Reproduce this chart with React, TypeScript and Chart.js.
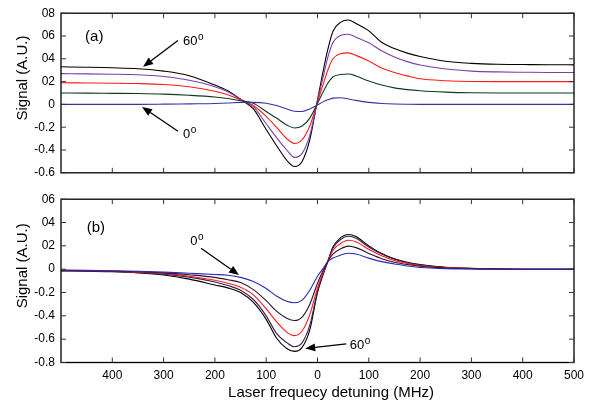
import React, { useEffect, useRef } from "react";
import { Chart, registerables } from "chart.js";

Chart.register(...registerables);

// ---------- data ----------
const detuning = [-500, -450, -400, -350, -300, -250, -200, -175, -150, -125, -100, -80, -60, -45, -30, -15, 0, 10, 20, 30, 45, 60, 75, 100, 125, 150, 175, 200, 250, 300, 350, 400, 450, 500];

// panel (a)
const a60 = [0.33, 0.326, 0.321, 0.313, 0.292, 0.252, 0.17, 0.12, 0.045, -0.04, -0.22, -0.36, -0.49, -0.545, -0.5, -0.31, 0.04, 0.27, 0.48, 0.64, 0.72, 0.74, 0.71, 0.645, 0.545, 0.49, 0.45, 0.42, 0.378, 0.36, 0.352, 0.35, 0.348, 0.347];
const a45 = [0.27, 0.268, 0.265, 0.26, 0.245, 0.212, 0.155, 0.11, 0.045, -0.02, -0.17, -0.29, -0.4, -0.465, -0.43, -0.27, 0.03, 0.22, 0.41, 0.54, 0.605, 0.615, 0.59, 0.54, 0.47, 0.415, 0.375, 0.345, 0.31, 0.292, 0.285, 0.282, 0.28, 0.28];
const a30 = [0.19, 0.188, 0.186, 0.183, 0.175, 0.155, 0.115, 0.085, 0.04, -0.01, -0.105, -0.2, -0.3, -0.343, -0.31, -0.19, 0.02, 0.16, 0.3, 0.4, 0.445, 0.452, 0.43, 0.38, 0.32, 0.28, 0.25, 0.225, 0.208, 0.201, 0.2, 0.2, 0.2, 0.2];
const a15 = [0.1, 0.099, 0.097, 0.095, 0.09, 0.08, 0.065, 0.052, 0.032, 0.01, -0.063, -0.12, -0.18, -0.207, -0.19, -0.12, 0.01, 0.1, 0.185, 0.24, 0.262, 0.267, 0.25, 0.205, 0.17, 0.145, 0.13, 0.12, 0.108, 0.102, 0.1, 0.1, 0.1, 0.1];
const a0 = [0, 0, 0, 0, 0.002, 0.005, 0.008, 0.012, 0.018, 0.018, 0.01, -0.01, -0.04, -0.06, -0.062, -0.04, -0.005, 0.02, 0.04, 0.055, 0.058, 0.048, 0.035, 0.018, 0.008, 0.003, 0.001, 0, 0, 0, 0, 0, 0, 0];

// panel (b)
const b0 = [-0.008, -0.01, -0.013, -0.018, -0.025, -0.035, -0.045, -0.052, -0.07, -0.105, -0.165, -0.23, -0.275, -0.288, -0.265, -0.18, -0.06, 0, 0.065, 0.095, 0.12, 0.137, 0.13, 0.095, 0.065, 0.045, 0.027, 0.015, 0.005, 0.002, 0, 0, 0, 0];
const b15 = [-0.01, -0.012, -0.016, -0.022, -0.032, -0.048, -0.07, -0.09, -0.115, -0.175, -0.27, -0.36, -0.42, -0.44, -0.41, -0.3, -0.12, -0.02, 0.065, 0.13, 0.175, 0.198, 0.185, 0.135, 0.09, 0.06, 0.04, 0.025, 0.01, 0.004, 0.001, 0, 0, 0];
const b30 = [-0.012, -0.014, -0.018, -0.025, -0.036, -0.06, -0.095, -0.12, -0.155, -0.22, -0.34, -0.45, -0.54, -0.57, -0.53, -0.39, -0.16, -0.04, 0.065, 0.16, 0.22, 0.248, 0.235, 0.17, 0.115, 0.075, 0.05, 0.032, 0.013, 0.005, 0.002, 0, 0, 0];
const b45 = [-0.013, -0.015, -0.02, -0.028, -0.042, -0.068, -0.11, -0.14, -0.18, -0.26, -0.4, -0.55, -0.63, -0.665, -0.63, -0.48, -0.19, -0.05, 0.065, 0.18, 0.255, 0.282, 0.265, 0.19, 0.13, 0.085, 0.055, 0.036, 0.015, 0.006, 0.002, 0, 0, 0];
const b60 = [-0.015, -0.017, -0.022, -0.032, -0.05, -0.085, -0.135, -0.16, -0.2, -0.285, -0.43, -0.59, -0.68, -0.705, -0.67, -0.52, -0.2, -0.06, 0.065, 0.19, 0.27, 0.298, 0.28, 0.2, 0.135, 0.09, 0.06, 0.04, 0.017, 0.007, 0.003, 0, 0, 0];

// ticks
const xTickValues = [-400, -300, -200, -100, 0, 100, 200, 300, 400, 500];
const xTickLabels = ["400", "300", "200", "100", "0", "100", "200", "300", "400", "500"];
const topYTickValues = [-0.6, -0.4, -0.2, 0, 0.2, 0.4, 0.6, 0.8];
const topYTickLabels = ["-0.6", "-0.4", "-0.2", "0", "02", "04", "06", "08"];
const bottomYTickValues = [-0.8, -0.6, -0.4, -0.2, 0, 0.2, 0.4, 0.6];
const bottomYTickLabels = ["-0.8", "-0.6", "-0.4", "-0.2", "0", "02", "04", "06"];

// titles
const yTitle = "Signal (A.U.)";
const xTitle = "Laser frequecy detuning (MHz)";

// annotations (data coordinates)
const topNotes = [
  { text: "60", sup: "o", x: -262, y: 0.55 },
  { text: "0", sup: "o", x: -262, y: -0.26 },
  { text: "(a)", sup: "", x: -453, y: 0.59 },
];
const topArrows = [
  { x1: -272, y1: 0.56, x2: -340, y2: 0.33 },
  { x1: -272, y1: -0.235, x2: -342, y2: -0.022 },
];
const bottomNotes = [
  { text: "0", sup: "o", x: -248, y: 0.24 },
  { text: "60", sup: "o", x: 63, y: -0.65 },
  { text: "(b)", sup: "", x: -450, y: 0.355 },
];
const bottomArrows = [
  { x1: -227, y1: 0.18, x2: -153, y2: -0.05 },
  { x1: 56, y1: -0.64, x2: -24, y2: -0.68 },
];

const FONT = "'Liberation Sans', Arial, Helvetica, sans-serif";

function labelFor(values: number[], labels: string[], v: number) {
  const i = values.findIndex((t) => Math.abs(t - v) < 1e-6);
  return i >= 0 ? labels[i] : "";
}

const framePlugin = {
  id: "frame",
  afterDatasetsDraw(chart: any, _args: any, opts: any) {
    const { ctx, chartArea, scales } = chart;
    const { left, right, top, bottom } = chartArea;
    const xs = scales.x;
    const ys = scales.y;
    ctx.save();
    ctx.strokeStyle = "#000";
    ctx.lineWidth = 1.3;
    ctx.strokeRect(left, top, right - left, bottom - top);
    ctx.lineWidth = 1;
    ctx.strokeStyle = "#333";
    const tl = 5;
    ctx.beginPath();
    for (const v of xTickValues) {
      const px = xs.getPixelForValue(v);
      ctx.moveTo(px, bottom);
      ctx.lineTo(px, bottom - tl);
      ctx.moveTo(px, top);
      ctx.lineTo(px, top + tl);
    }
    for (const v of opts.yTicks || []) {
      const py = ys.getPixelForValue(v);
      ctx.moveTo(left, py);
      ctx.lineTo(left + tl, py);
      ctx.moveTo(right, py);
      ctx.lineTo(right - tl, py);
    }
    ctx.stroke();

    // arrows
    ctx.strokeStyle = "#000";
    ctx.fillStyle = "#000";
    for (const a of opts.arrows || []) {
      const x1 = xs.getPixelForValue(a.x1);
      const y1 = ys.getPixelForValue(a.y1);
      const x2 = xs.getPixelForValue(a.x2);
      const y2 = ys.getPixelForValue(a.y2);
      const ang = Math.atan2(y2 - y1, x2 - x1);
      const hl = 10;
      const hw = 4;
      const bx = x2 - hl * Math.cos(ang);
      const by = y2 - hl * Math.sin(ang);
      ctx.lineWidth = 1.3;
      ctx.beginPath();
      ctx.moveTo(x1, y1);
      ctx.lineTo(bx, by);
      ctx.stroke();
      ctx.beginPath();
      ctx.moveTo(x2, y2);
      ctx.lineTo(bx + hw * Math.sin(ang), by - hw * Math.cos(ang));
      ctx.lineTo(bx - hw * Math.sin(ang), by + hw * Math.cos(ang));
      ctx.closePath();
      ctx.fill();
    }

    // notes
    ctx.textBaseline = "middle";
    ctx.textAlign = "left";
    for (const n of opts.notes || []) {
      const px = xs.getPixelForValue(n.x);
      const py = ys.getPixelForValue(n.y);
      const big = n.sup ? 13 : 15;
      ctx.font = `${big}px ${FONT}`;
      ctx.fillText(n.text, px, py);
      if (n.sup) {
        const w = ctx.measureText(n.text).width;
        ctx.font = `10px ${FONT}`;
        ctx.fillText(n.sup, px + w + 0.5, py - 4);
      }
    }

    // axis titles
    ctx.textAlign = "center";
    ctx.font = `15px ${FONT}`;
    ctx.save();
    ctx.translate(22.5, (top + bottom) / 2 - 15);
    ctx.rotate(-Math.PI / 2);
    ctx.fillText(yTitle, 0, 0);
    ctx.restore();
    if (opts.showXTitle) {
      ctx.fillText(xTitle, (left + right) / 2 + 13.5, chart.height - 14);
    }
    ctx.restore();
  },
};

function mkDatasets(series: { data: number[]; color: string }[]) {
  return series.map((s) => ({
    data: detuning.map((x, i) => ({ x, y: s.data[i] })),
    borderColor: s.color,
    backgroundColor: s.color,
    borderWidth: 1.1,
    pointRadius: 0,
    fill: false,
    cubicInterpolationMode: "monotone" as const,
  }));
}

function yScale(min: number, max: number, values: number[], labels: string[]) {
  return {
    type: "linear" as const,
    min,
    max,
    afterBuildTicks: (s: any) => {
      s.ticks = values.map((v) => ({ value: v }));
    },
    afterFit: (s: any) => {
      s.width = 61;
    },
    ticks: {
      color: "#000",
      font: { family: FONT, size: 12 },
      padding: 6,
      callback: (v: any) => labelFor(values, labels, Number(v)),
    },
    grid: { display: false, drawTicks: false },
    border: { display: false },
  };
}

export default function App() {
  const topRef = useRef<HTMLCanvasElement>(null);
  const botRef = useRef<HTMLCanvasElement>(null);

  useEffect(() => {
    const top = new Chart(topRef.current!, {
      type: "line",
      data: {
        datasets: mkDatasets([
          { data: a0, color: "#3434a8" },
          { data: a15, color: "#0d3b1f" },
          { data: a30, color: "#ff1a1a" },
          { data: a45, color: "#7a3ea8" },
          { data: a60, color: "#000000" },
        ]),
      },
      options: {
        responsive: false,
        animation: false,
        devicePixelRatio: 1,
        layout: { padding: { top: 8, right: 27, bottom: 7.5, left: 0 } },
        plugins: {
          legend: { display: false },
          tooltip: { enabled: false },
          frame: { yTicks: topYTickValues, arrows: topArrows, notes: topNotes, showXTitle: false },
        } as any,
        scales: {
          x: {
            type: "linear",
            min: -500,
            max: 500,
            ticks: { display: false },
            grid: { display: false, drawTicks: false },
            border: { display: false },
            afterFit: (s: any) => {
              s.height = 0;
            },
          },
          y: yScale(-0.6, 0.8, topYTickValues, topYTickLabels) as any,
        },
      },
      plugins: [framePlugin],
    });

    const bottom = new Chart(botRef.current!, {
      type: "line",
      data: {
        datasets: mkDatasets([
          { data: b0, color: "#2a2ab8" },
          { data: b15, color: "#2e1030" },
          { data: b30, color: "#ff1a1a" },
          { data: b45, color: "#3e1d52" },
          { data: b60, color: "#000000" },
        ]),
      },
      options: {
        responsive: false,
        animation: false,
        devicePixelRatio: 1,
        layout: { padding: { top: 8.5, right: 27, bottom: 0, left: 0 } },
        plugins: {
          legend: { display: false },
          tooltip: { enabled: false },
          frame: { yTicks: bottomYTickValues, arrows: bottomArrows, notes: bottomNotes, showXTitle: true },
        } as any,
        scales: {
          x: {
            type: "linear",
            min: -500,
            max: 500,
            afterBuildTicks: (s: any) => {
              s.ticks = xTickValues.map((v) => ({ value: v }));
            },
            afterFit: (s: any) => {
              s.height = 44.5;
            },
            ticks: {
              color: "#000",
              font: { family: FONT, size: 12 },
              padding: 6,
              maxRotation: 0,
              autoSkip: false,
              callback: (v: any) => labelFor(xTickValues, xTickLabels, Number(v)),
            },
            grid: { display: false, drawTicks: false },
            border: { display: false },
          },
          y: yScale(-0.8, 0.6, bottomYTickValues, bottomYTickLabels) as any,
        },
      },
      plugins: [framePlugin],
    });

    return () => {
      top.destroy();
      bottom.destroy();
    };
  }, []);

  return (
    <div style={{ position: "absolute", left: 0, top: 0, width: 601, height: 407, background: "#fff" }}>
      <canvas ref={topRef} width={601} height={186} style={{ position: "absolute", left: 0, top: 0, display: "block" }} />
      <canvas ref={botRef} width={601} height={221} style={{ position: "absolute", left: 0, top: 186, display: "block" }} />
    </div>
  );
}
